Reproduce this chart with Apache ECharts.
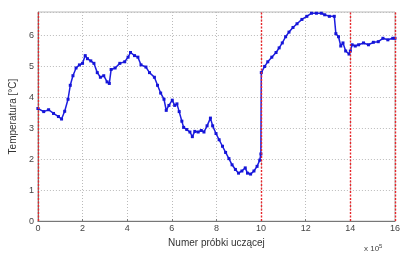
<!DOCTYPE html>
<html>
<head>
<meta charset="utf-8">
<script src="https://cdn.jsdelivr.net/npm/echarts@6/dist/echarts.min.js"></script>
<style>
  html, body { margin: 0; padding: 0; background: #fff; }
  #chart { width: 403px; height: 253px; }
</style>
</head>
<body>
<div id="chart"></div>
<script>
// numer próbki (x 10^5)
var sampleNo = [
  0, 0.26, 0.48, 0.70, 0.92, 1.06, 1.20, 1.35, 1.45, 1.57, 1.71, 1.86, 2.00, 2.12, 2.22, 2.37,
  2.51, 2.66, 2.80, 2.95, 3.10, 3.20, 3.28, 3.46, 3.67, 3.89, 4.04, 4.15, 4.33, 4.48, 4.62,
  4.84, 5.00, 5.22, 5.36, 5.50, 5.65, 5.75, 5.87, 6.02, 6.13, 6.23, 6.33, 6.45, 6.53, 6.67,
  6.81, 6.92, 7.03, 7.18, 7.32, 7.44, 7.58, 7.73, 7.83, 7.98, 8.12, 8.27, 8.41, 8.56, 8.70,
  8.85, 8.99, 9.14, 9.29, 9.39, 9.53, 9.68, 9.82, 9.94, 9.99,
  10.01, 10.16, 10.30, 10.48, 10.67, 10.81, 10.95, 11.10, 11.25, 11.43, 11.61, 11.83, 12.05,
  12.26, 12.48, 12.70, 12.85, 13.06, 13.28, 13.35, 13.47, 13.57, 13.67, 13.79, 13.94, 14.00,
  14.08, 14.22, 14.37, 14.59, 14.81, 15.03, 15.25, 15.46, 15.68, 15.90, 16.00
];
// temperatura [°C]
var temperature = [
  3.64, 3.54, 3.60, 3.48, 3.38, 3.30, 3.55, 3.94, 4.39, 4.70, 4.95, 5.05, 5.10, 5.35, 5.25, 5.18,
  5.10, 4.80, 4.65, 4.70, 4.50, 4.45, 4.90, 4.95, 5.10, 5.15, 5.30, 5.45, 5.35, 5.30, 5.05,
  4.98, 4.80, 4.65, 4.39, 4.14, 3.94, 3.58, 3.74, 3.91, 3.74, 3.79, 3.54, 3.23, 3.03, 2.96,
  2.88, 2.73, 2.90, 2.88, 2.93, 2.88, 3.08, 3.33, 3.08, 2.83, 2.63, 2.42, 2.22, 2.02, 1.82,
  1.67, 1.55, 1.62, 1.72, 1.55, 1.52, 1.62, 1.77, 1.97, 2.17,
  4.80, 5.00, 5.15, 5.30, 5.45, 5.60, 5.76, 5.96, 6.11, 6.26, 6.38, 6.52, 6.62,
  6.72, 6.72, 6.72, 6.67, 6.62, 6.62, 6.06, 5.96, 5.66, 5.76, 5.50, 5.40, 5.50,
  5.70, 5.66, 5.70, 5.76, 5.70, 5.78, 5.80, 5.91, 5.86, 5.91, 5.91
];
// granice zbiorów
var splitMarks = [0, 10, 14, 16];

var points = sampleNo.map(function (x, i) { return [x, temperature[i]]; });

var font = 'Liberation Sans, Arial, sans-serif';
var myChart = echarts.init(document.getElementById('chart'));

var option = {
  animation: false,
  backgroundColor: '#fff',
  grid: { left: 32, right: 3, top: 12, bottom: 18, show: true, borderColor: '#bbb', borderWidth: 1 },
  xAxis: {
    type: 'value',
    min: 0,
    max: 16,
    interval: 2,
    name: 'Numer próbki uczącej',
    nameLocation: 'middle',
    nameGap: 12,
    nameTextStyle: { fontFamily: font, fontSize: 10, color: '#333' },
    axisLine: { show: true, onZero: false, lineStyle: { color: '#777' } },
    axisTick: { show: true, inside: true, length: 2, lineStyle: { color: '#777' } },
    axisLabel: { fontFamily: font, fontSize: 9, color: '#444', margin: 3 },
    splitLine: { show: true, lineStyle: { color: '#bbb', type: [1, 2] } }
  },
  yAxis: {
    type: 'value',
    min: 0,
    max: 6.76,
    interval: 1,
    name: 'Temperatura [°C]',
    nameLocation: 'middle',
    nameGap: 13,
    nameTextStyle: { fontFamily: font, fontSize: 10, color: '#333' },
    axisLine: { show: true, lineStyle: { color: '#777' } },
    axisTick: { show: false },
    axisLabel: {
      fontFamily: font, fontSize: 9, color: '#444', margin: 4,
      formatter: function (v) { return Math.abs(v - Math.round(v)) < 1e-6 ? String(v) : ''; }
    },
    splitLine: { show: true, lineStyle: { color: '#bbb', type: [1, 2] } }
  },
  series: [
    {
      type: 'line',
      data: points,
      symbol: 'rect',
      symbolSize: 3,
      showSymbol: true,
      itemStyle: { color: '#1515d8' },
      lineStyle: { color: '#1d1de0', width: 1.5 },
      z: 3
    },
    {
      // czerwone pionowe linie podziału
      type: 'line',
      data: [],
      z: 4,
      markLine: {
        silent: true,
        symbol: 'none',
        label: { show: false },
        lineStyle: { color: '#e8262a', type: [2, 1.5], width: 1.4, opacity: 1 },
        data: splitMarks.map(function (x) { return { xAxis: x }; })
      }
    }
  ],
  graphic: [
    {
      type: 'text',
      left: 364,
      top: 243,
      style: {
        text: 'x 10{sup|5}',
        fontFamily: font,
        fontSize: 8,
        fill: '#444',
        rich: { sup: { fontSize: 6, verticalAlign: 'top', padding: [0, 0, 5, 0], fill: '#444' } }
      }
    }
  ]
};

myChart.setOption(option);
</script>
</body>
</html>
